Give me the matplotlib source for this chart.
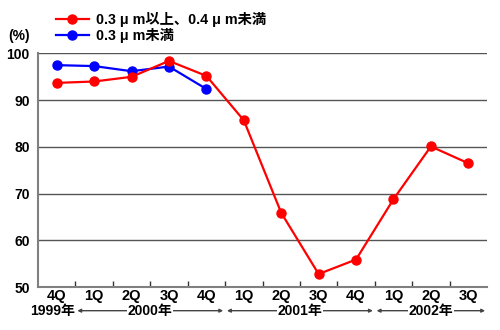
import matplotlib
matplotlib.use('Agg')
import matplotlib.pyplot as plt
from matplotlib.lines import Line2D

plt.rcParams['font.family'] = ['Liberation Sans', 'Noto Sans CJK JP']
plt.rcParams['font.weight'] = 'bold'

# 四半期ごとの比率 (%)
quarters = ['4Q', '1Q', '2Q', '3Q', '4Q', '1Q', '2Q', '3Q', '4Q', '1Q', '2Q', '3Q']
red_vals = [93.7, 94.0, 95.0, 98.4, 95.2, 85.7, 65.9, 52.8, 55.9, 68.8, 80.1, 76.5]
blue_vals = [97.5, 97.3, 96.2, 97.2, 92.4]
red_label = '0.3 \u03bc m以上、0.4 \u03bc m未満'
blue_label = '0.3 \u03bc m未満'

# 年の区切り (開始index, 終了index, ラベル)
years = [(1, 4, '2000年'), (5, 8, '2001年'), (9, 11, '2002年')]
first_year = '1999年'

fig = plt.figure(figsize=(5, 3.3), dpi=100)
ax = fig.add_axes([0.076, 0.130, 0.898, 0.708])

x = list(range(len(quarters)))
ax.plot(x, red_vals, color='#ff0000', lw=1.6, marker='o', ms=6.5, zorder=4)
ax.plot(x[:len(blue_vals)], blue_vals, color='#0000ff', lw=1.6, marker='o', ms=6.5, zorder=3)

ax.set_xlim(-0.5, len(quarters) - 0.5)
ax.set_ylim(50, 100)
ax.set_yticks([50, 60, 70, 80, 90, 100])
for yv in [60, 70, 80, 90, 100]:
    ax.axhline(yv, color='#555555', lw=1.0, zorder=1)

for side in ['top', 'right']:
    ax.spines[side].set_visible(False)
for side in ['left', 'bottom']:
    ax.spines[side].set_color('#808080')
    ax.spines[side].set_linewidth(1.5)

ax.set_xticks(x)
ax.set_xticklabels(quarters, fontsize=10.5, fontweight='bold')
ax.tick_params(axis='x', which='major', length=0, pad=1.5)
ax.set_xticks([i + 0.5 for i in range(len(quarters) - 1)], minor=True)
ax.tick_params(axis='x', which='minor', direction='in', length=4, width=1, color='#333333')
ax.tick_params(axis='y', length=0, pad=6, labelsize=10)

# 年表示と矢印
tr = ax.get_xaxis_transform()
yy = -0.101
ax.text(-0.1, yy, first_year, transform=tr, ha='center', va='center', fontsize=10,
        fontweight='bold', clip_on=False)
for s, e, lab in years:
    ax.annotate('', xy=(e + 0.45, yy), xytext=(s - 0.45, yy), xycoords=tr, textcoords=tr,
                arrowprops=dict(arrowstyle='<|-|>', color='#444444', lw=1, mutation_scale=5,
                                shrinkA=0, shrinkB=0), annotation_clip=False)
    ax.text((s + e) / 2, yy, lab, transform=tr, ha='center', va='center', fontsize=10,
            fontweight='bold', clip_on=False,
            bbox=dict(facecolor='white', edgecolor='none', pad=0.5))

fig.text(0.016, 1 - 36 / 330, '(%)', ha='left', va='center', fontsize=10, fontweight='bold')

handles = [Line2D([], [], color='#ff0000', lw=1.6, marker='o', ms=6.5),
           Line2D([], [], color='#0000ff', lw=1.6, marker='o', ms=6.5)]
fig.legend(handles, [red_label, blue_label], loc='upper left', bbox_to_anchor=(0.086, 1.004),
           frameon=False, handlelength=2.3, handletextpad=0.5, labelspacing=0.1,
           prop={'weight': 'bold', 'size': 10.3})

fig.savefig('out.png', dpi=100)
